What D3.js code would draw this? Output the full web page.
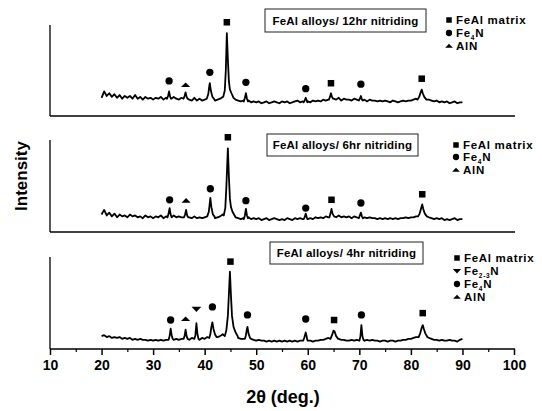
<!DOCTYPE html>
<html lang="en">
<head>
<meta charset="utf-8">
<title>XRD FeAl nitriding</title>
<script src="https://cdnjs.cloudflare.com/ajax/libs/d3/7.8.5/d3.min.js"></script>
<style>
  body { margin: 0; background: #fff; }
  svg { display: block; font-family: "Liberation Sans", Arial, sans-serif; }
  .tick-label { font-size: 14px; font-weight: bold; }
  .legend text { font-size: 11.5px; font-weight: bold; letter-spacing: 0.7px; }
  .title-box text { font-size: 11.5px; font-weight: bold; letter-spacing: 0.2px; }
</style>
</head>
<body>
<div id="chart"></div>
<script>
// ---- data (intensity: 0 = panel baseline, 100 = panel top) ----
var xTicks = [10, 20, 30, 40, 50, 60, 70, 80, 90, 100];
var xMinorTicks = [15, 25, 35, 45, 55, 65, 75, 85, 95];

var panelTitles = ["FeAl alloys/ 12hr nitriding", "FeAl alloys/ 6hr nitriding", "FeAl alloys/ 4hr nitriding"];

// background rows: each row holds 10 values, 0.5 deg apart, starting at 20, 25, 30 ... 85; then the value at 90
var bg12 = [
  [20, 27, 22, 25, 21, 24, 20, 23, 19, 22],
  [20, 22, 19, 23, 19, 21, 18, 21, 19, 20],
  [18, 20, 19, 21, 18, 20, 19, 18, 21, 19],
  [18, 20, 19, 22, 18, 17, 20, 17, 19, 17],
  [18, 20, 19, 18, 17, 18, 19, 21, 23, 30],
  [25, 20, 18, 17, 16, 17, 17, 17, 15, 16],
  [15, 16, 14, 15, 16, 14, 15, 16, 15, 14],
  [16, 15, 16, 14, 15, 16, 17, 15, 16, 15],
  [16, 15, 17, 16, 17, 16, 18, 17, 18, 19],
  [19, 18, 20, 17, 19, 18, 18, 17, 19, 18],
  [19, 17, 18, 16, 18, 17, 17, 16, 17, 16],
  [17, 16, 15, 17, 16, 15, 16, 17, 16, 17],
  [17, 18, 19, 20, 24, 21, 19, 18, 17, 16],
  [17, 15, 16, 15, 16, 14, 15, 16, 14, 15]
];
var bg12End = 15;
var peaks12 = [
  [[32.7, 19], [32.9, 22], [33.1, 27], [33.3, 21], [33.5, 19]],
  [[35.9, 19], [36.1, 22], [36.3, 26], [36.5, 21], [36.7, 19]],
  [[40.4, 19], [40.7, 24], [40.9, 33], [41.0, 36], [41.2, 28], [41.5, 21], [41.8, 19]],
  [[43.6, 21], [43.9, 28], [44.1, 50], [44.3, 91], [44.5, 62], [44.7, 38], [44.9, 29], [45.2, 25], [45.6, 20]],
  [[47.6, 16], [47.8, 20], [48.0, 25], [48.2, 19], [48.4, 16]],
  [[59.2, 15], [59.4, 17], [59.6, 20], [59.8, 17], [59.9, 15]],
  [[64.1, 18], [64.3, 21], [64.5, 25], [64.7, 21], [64.9, 19]],
  [[69.9, 17], [70.1, 19], [70.3, 22], [70.5, 18], [70.7, 17]],
  [[81.3, 18], [81.6, 21], [81.9, 26], [82.1, 29], [82.3, 25], [82.6, 21], [83.0, 18]]
];
var marks12 = [
  ["square", 44.3, 103], ["circle", 33.1, 38.5], ["triUp", 36.3, 34], ["circle", 41.0, 48],
  ["circle", 48.0, 37], ["circle", 59.6, 30], ["square", 64.5, 36], ["circle", 70.3, 35], ["square", 82.1, 41]
];

var bg6 = [
  [19, 24, 18, 21, 17, 20, 16, 19, 17, 18],
  [16, 19, 17, 18, 16, 17, 15, 18, 16, 17],
  [15, 17, 16, 18, 15, 17, 16, 15, 18, 16],
  [17, 16, 18, 17, 16, 15, 17, 15, 16, 15],
  [16, 18, 17, 16, 15, 16, 17, 19, 22, 30],
  [24, 18, 16, 15, 14, 15, 15, 16, 14, 15],
  [14, 15, 13, 14, 15, 13, 14, 15, 14, 13],
  [14, 13, 15, 14, 13, 15, 14, 15, 14, 15],
  [14, 15, 14, 16, 15, 16, 15, 17, 16, 18],
  [17, 16, 18, 16, 17, 16, 17, 15, 17, 16],
  [17, 15, 16, 15, 16, 15, 15, 14, 15, 14],
  [15, 14, 15, 14, 15, 14, 15, 15, 16, 15],
  [16, 16, 17, 18, 22, 19, 17, 16, 15, 14],
  [15, 14, 15, 13, 14, 13, 14, 15, 13, 14]
];
var bg6End = 14;
var peaks6 = [
  [[32.8, 16], [33.0, 20], [33.2, 26], [33.4, 19], [33.6, 16]],
  [[36.0, 16], [36.2, 19], [36.4, 24], [36.6, 18], [36.8, 16]],
  [[40.5, 17], [40.8, 22], [41.0, 32], [41.1, 37], [41.3, 27], [41.6, 19], [41.9, 17]],
  [[43.7, 18], [44.0, 26], [44.2, 48], [44.5, 91], [44.7, 60], [44.9, 36], [45.1, 27], [45.4, 22], [45.8, 18]],
  [[47.6, 14], [47.8, 18], [48.0, 25], [48.2, 18], [48.4, 15]],
  [[59.2, 14], [59.4, 16], [59.6, 20], [59.8, 16], [59.9, 14]],
  [[64.2, 16], [64.4, 20], [64.6, 25], [64.8, 20], [65.1, 17]],
  [[69.9, 15], [70.1, 18], [70.3, 21], [70.5, 17], [70.7, 15]],
  [[81.4, 17], [81.7, 20], [82.0, 26], [82.2, 30], [82.4, 25], [82.7, 20], [83.1, 17]]
];
var marks6 = [
  ["square", 44.5, 103], ["circle", 33.2, 35], ["triUp", 36.4, 34], ["circle", 41.1, 47],
  ["circle", 48.0, 34], ["circle", 59.6, 26], ["square", 64.6, 35], ["circle", 70.3, 31.5], ["square", 82.2, 41]
];

var bg4 = [
  [14, 15, 13, 14, 12, 13, 12, 13, 11, 12],
  [11, 12, 10, 11, 10, 11, 10, 10, 9, 10],
  [9, 10, 9, 10, 9, 10, 9, 11, 10, 11],
  [10, 11, 10, 11, 10, 12, 11, 11, 10, 12],
  [11, 13, 12, 13, 12, 13, 14, 16, 20, 28],
  [26, 18, 14, 12, 11, 11, 10, 10, 11, 10],
  [9, 10, 9, 9, 8, 9, 8, 9, 8, 9],
  [8, 9, 8, 9, 8, 9, 8, 9, 9, 10],
  [9, 9, 8, 9, 9, 10, 10, 11, 12, 14],
  [15, 12, 11, 10, 10, 9, 9, 10, 9, 10],
  [10, 10, 9, 10, 9, 10, 9, 9, 8, 9],
  [9, 8, 9, 9, 8, 9, 9, 10, 10, 11],
  [11, 12, 13, 15, 20, 18, 14, 12, 11, 10],
  [10, 9, 10, 9, 9, 10, 9, 9, 8, 10]
];
var bg4End = 11;
var peaks4 = [
  [[33.0, 10], [33.2, 14], [33.4, 22], [33.6, 15], [33.8, 11]],
  [[35.9, 11], [36.1, 14], [36.3, 21], [36.5, 14], [36.7, 11]],
  [[38.0, 11], [38.2, 15], [38.4, 28], [38.6, 16], [38.8, 11]],
  [[40.9, 12], [41.1, 16], [41.3, 24], [41.5, 29], [41.7, 22], [42.0, 16], [42.3, 13]],
  [[43.9, 14], [44.2, 20], [44.5, 36], [44.7, 60], [44.9, 84], [45.1, 58], [45.3, 36], [45.6, 24], [46.0, 18], [46.4, 14]],
  [[47.8, 11], [48.0, 15], [48.2, 22], [48.3, 24], [48.5, 17], [48.8, 12]],
  [[59.1, 9], [59.3, 12], [59.6, 18], [59.8, 13], [59.9, 10]],
  [[64.4, 11], [64.7, 15], [65.0, 20], [65.2, 19], [65.5, 14], [65.9, 11]],
  [[70.0, 9], [70.2, 13], [70.4, 26], [70.6, 14], [70.8, 10]],
  [[81.5, 13], [81.8, 17], [82.1, 23], [82.3, 26], [82.5, 22], [82.8, 17], [83.2, 13]]
];
var marks4 = [
  ["square", 45.0, 95], ["circle", 33.4, 31.5], ["triUp", 36.3, 32.6], ["triDown", 38.4, 43.5],
  ["circle", 41.5, 45.7], ["circle", 48.3, 37], ["circle", 59.6, 32.6], ["square", 65.1, 31.5],
  ["circle", 70.4, 37], ["square", 82.3, 39]
];

// legends: symbol, main text, subscript, trailing text
var legend12 = [["square", "FeAl matrix", "", ""], ["circle", "Fe", "4", "N"], ["triUp", "AlN", "", ""]];
var legend6 = [["square", "FeAl matrix", "", ""], ["circle", "Fe", "4", "N"], ["triUp", "AlN", "", ""]];
var legend4 = [["square", "FeAl matrix", "", ""], ["triDown", "Fe", "2-3", "N"], ["circle", "Fe", "4", "N"], ["triUp", "AlN", "", ""]];

// ---- layout ----
var width = 542, height = 411;
var panels = [
  { top: 25, bottom: 116, bg: bg12, bgEnd: bg12End, peaks: peaks12, marks: marks12, legend: legend12,
    box: [265, 9, 161, 23], legX: 449, legY: [20, 33, 46] },
  { top: 140, bottom: 232, bg: bg6, bgEnd: bg6End, peaks: peaks6, marks: marks6, legend: legend6,
    box: [267, 134, 151, 22], legX: 456, legY: [145, 157, 170] },
  { top: 257, bottom: 349, bg: bg4, bgEnd: bg4End, peaks: peaks4, marks: marks4, legend: legend4,
    box: [270, 242, 153, 22], legX: 457, legY: [258, 271, 284, 297] }
];

var svg = d3.select("#chart").append("svg")
  .attr("width", width)
  .attr("height", height);

var x = d3.scaleLinear().domain([10, 100]).range([50, 514]);

function buildSeries(rows, endVal, peaks) {
  var pts = [];
  rows.forEach(function(row, r) {
    row.forEach(function(v, i) { pts.push([20 + r * 5 + i * 0.5, v]); });
  });
  pts.push([90, endVal]);
  // drop background points that sit inside a peak window, then add the peak points
  pts = pts.filter(function(p) {
    return !peaks.some(function(pk) { return p[0] >= pk[0][0] && p[0] <= pk[pk.length - 1][0]; });
  });
  peaks.forEach(function(pk) { pts = pts.concat(pk); });
  pts.sort(function(a, b) { return a[0] - b[0]; });
  return pts;
}

function drawSymbol(g, type, cx, cy, s) {
  if (type === "square") {
    g.append("rect").attr("x", cx - s / 2).attr("y", cy - s / 2).attr("width", s).attr("height", s);
  } else if (type === "circle") {
    g.append("circle").attr("cx", cx).attr("cy", cy).attr("r", s / 2 + 0.4);
  } else if (type === "triUp") {
    g.append("path").attr("d", "M" + (cx - s * 0.7) + "," + (cy + s * 0.3) + "L" + (cx + s * 0.7) + "," + (cy + s * 0.3) + "L" + cx + "," + (cy - s * 0.4) + "Z");
  } else if (type === "triDown") {
    g.append("path").attr("d", "M" + (cx - s * 0.75) + "," + (cy - s * 0.35) + "L" + (cx + s * 0.75) + "," + (cy - s * 0.35) + "L" + cx + "," + (cy + s * 0.45) + "Z");
  }
}

panels.forEach(function(p, idx) {
  var y = d3.scaleLinear().domain([0, 100]).range([p.bottom, p.top]);
  var g = svg.append("g").attr("class", "panel");

  // left frame line and baseline
  g.append("line")
    .attr("x1", x(10)).attr("x2", x(10))
    .attr("y1", p.top).attr("y2", p.bottom)
    .attr("stroke", "#000").attr("stroke-width", 1.3);
  g.append("line")
    .attr("x1", x(10)).attr("x2", x(100) + 1)
    .attr("y1", p.bottom).attr("y2", p.bottom)
    .attr("stroke", "#000").attr("stroke-width", idx === 2 ? 1.6 : 1.3);

  // spectrum
  var line = d3.line().x(function(d) { return x(d[0]); }).y(function(d) { return y(d[1]); });
  g.append("path")
    .datum(buildSeries(p.bg, p.bgEnd, p.peaks))
    .attr("d", line)
    .attr("fill", "none")
    .attr("stroke", "#000")
    .attr("stroke-width", 1.8)
    .attr("stroke-linejoin", "round");

  // peak markers
  var mg = g.append("g").attr("fill", "#000");
  p.marks.forEach(function(m) { drawSymbol(mg, m[0], x(m[1]), y(m[2]), 6.5); });

  // title box
  var tb = g.append("g").attr("class", "title-box");
  tb.append("rect")
    .attr("x", p.box[0]).attr("y", p.box[1])
    .attr("width", p.box[2]).attr("height", p.box[3])
    .attr("fill", "#fff").attr("stroke", "#222").attr("stroke-width", 1);
  tb.append("text")
    .attr("x", p.box[0] + p.box[2] / 2)
    .attr("y", p.box[1] + p.box[3] / 2 + 4)
    .attr("text-anchor", "middle")
    .text(panelTitles[idx]);

  // legend
  var lg = g.append("g").attr("class", "legend");
  p.legend.forEach(function(item, i) {
    var ly = p.legY[i];
    drawSymbol(lg.append("g").attr("fill", "#000"), item[0], p.legX, ly, 5.5);
    var t = lg.append("text").attr("x", p.legX + 7).attr("y", ly + 4);
    t.append("tspan").text(item[1]);
    if (item[2]) {
      t.append("tspan").attr("font-size", "6.5px").attr("dy", 3).text(item[2]);
      t.append("tspan").attr("dy", -3).text(item[3]);
    }
  });

  if (idx === 2) {
    var axis = d3.axisBottom(x).tickValues(xTicks).tickSize(6).tickPadding(5).tickFormat(d3.format("d"));
    var ag = svg.append("g").attr("transform", "translate(0," + p.bottom + ")").call(axis);
    ag.select(".domain").remove();
    ag.selectAll(".tick line").attr("stroke-width", 1.5);
    ag.selectAll(".tick text").attr("class", "tick-label").attr("font-size", null).attr("font-family", null).attr("fill", "#000");
    var minor = d3.axisBottom(x).tickValues(xMinorTicks).tickSize(3).tickFormat("");
    var mg2 = svg.append("g").attr("transform", "translate(0," + p.bottom + ")").call(minor);
    mg2.select(".domain").remove();
    mg2.selectAll(".tick line").attr("stroke-width", 1.2);
  }
});

// axis titles
svg.append("text")
  .attr("x", 283).attr("y", 403)
  .attr("text-anchor", "middle")
  .attr("font-size", 18).attr("font-weight", "bold")
  .text("2θ (deg.)");

svg.append("text")
  .attr("transform", "translate(27,176) rotate(-90)")
  .attr("text-anchor", "middle")
  .attr("font-size", 17).attr("font-weight", "bold")
  .text("Intensity");
</script>
</body>
</html>
